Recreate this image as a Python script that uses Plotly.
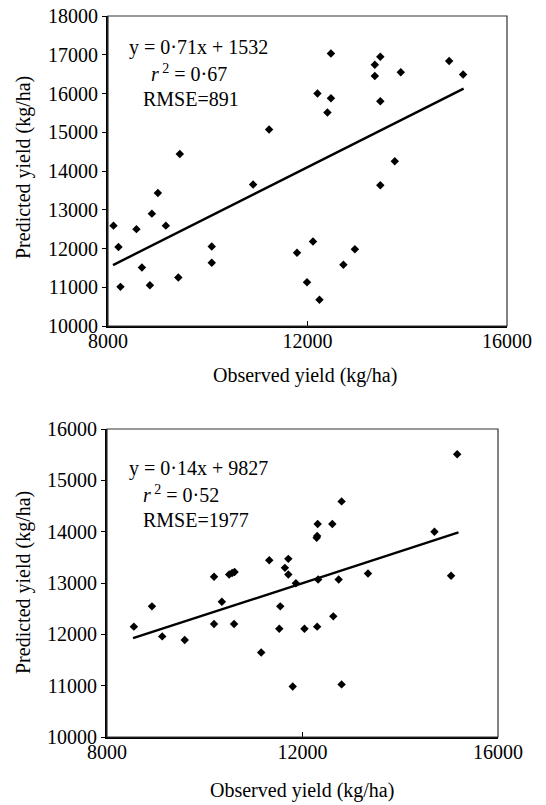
import plotly.graph_objects as go

W, H = 546, 805

# ---- data: top panel ----
obs_a = [8110, 8210, 8250, 8570, 8680, 8840, 8880, 9000, 9160, 9440, 9410,
         10080, 10080, 10910, 11230, 11790, 11990, 12110, 12240, 12200, 12400,
         12470, 12470, 12720, 12950, 13350, 13350, 13460, 13460, 13460, 13750,
         13870, 14840, 15120]
pred_a = [12590, 12040, 11010, 12500, 11510, 11050, 12900, 13430, 12590, 14440,
          11250, 12050, 11630, 13650, 15070, 11890, 11130, 12180, 10680, 16000,
          15510, 15880, 17030, 11580, 11980, 16740, 16450, 16950, 15800, 13630,
          14250, 16550, 16840, 16490]
fit_a_x = [8100, 15130]
fit_a_y = [11572, 16127]
label_a = ["y = 0·71x + 1532", "<i>r</i><sup> 2</sup> = 0·67", "RMSE=891"]

# ---- data: bottom panel ----
obs_b = [8550, 8920, 9130, 9590, 10190, 10190, 10350, 10500, 10560, 10610,
         10600, 11155, 11320, 11545, 11525, 11640, 11710, 11710, 11865, 11800,
         12040, 12290, 12300, 12310, 12320, 12300, 12610, 12630, 12740, 12800,
         12800, 13340, 14700, 15040, 15165]
pred_b = [12150, 12545, 11960, 11890, 13120, 12200, 12635, 13165, 13195, 13215,
          12200, 11645, 13445, 12545, 12110, 13295, 13470, 13165, 12995, 10985,
          12110, 13880, 13915, 14150, 13070, 12150, 14150, 12350, 13070, 14590,
          11025, 13185, 14000, 13140, 15510]
fit_b_x = [8533, 15192]
fit_b_y = [11924, 13986]
label_b = ["y = 0·14x + 9827", "<i>r</i><sup> 2</sup> = 0·52", "RMSE=1977"]

x_ticks = [8000, 12000, 16000]
y_ticks_a = list(range(10000, 18001, 1000))
y_ticks_b = list(range(10000, 16001, 1000))

FONT = "Liberation Serif"
FS = 20

fig = go.Figure()
fig.add_trace(go.Scatter(x=obs_a, y=pred_a, mode="markers", xaxis="x", yaxis="y",
                         marker=dict(symbol="diamond", size=6.5, color="black"),
                         showlegend=False))
fig.add_trace(go.Scatter(x=fit_a_x, y=fit_a_y, mode="lines", xaxis="x", yaxis="y",
                         line=dict(color="black", width=2.4), showlegend=False))
fig.add_trace(go.Scatter(x=obs_b, y=pred_b, mode="markers", xaxis="x2", yaxis="y2",
                         marker=dict(symbol="diamond", size=6.5, color="black"),
                         showlegend=False))
fig.add_trace(go.Scatter(x=fit_b_x, y=fit_b_y, mode="lines", xaxis="x2", yaxis="y2",
                         line=dict(color="black", width=2.4), showlegend=False))


def px(x):
    return x / W


def py(y):
    return 1 - y / H


tickfont = dict(family=FONT, size=FS, color="black")
xcommon = dict(range=[8000, 16000], tickvals=x_ticks,
               ticktext=[str(v) for v in x_ticks], ticks="inside", ticklen=5,
               tickcolor="black", showline=True, linecolor="black", linewidth=2,
               showgrid=False, zeroline=False, tickfont=tickfont, automargin=False,
               ticklabelstandoff=-4, ticklabeloverflow="allow")
ycommon = dict(ticks="outside", ticklen=4, tickcolor="black", showline=True,
               linecolor="black", linewidth=2, showgrid=False, zeroline=False,
               tickfont=tickfont, automargin=False, ticklabeloverflow="allow")

fig.update_layout(
    template="none",
    width=W, height=H, margin=dict(l=0, r=0, t=0, b=0, pad=0),
    paper_bgcolor="white", plot_bgcolor="white",
    font=dict(family=FONT, size=FS, color="black"),
    xaxis=dict(domain=[px(108), px(507)], anchor="y", **xcommon),
    yaxis=dict(domain=[py(326), py(16)], anchor="x", range=[10000, 18000],
               tickvals=y_ticks_a, ticktext=[str(v) for v in y_ticks_a], **ycommon),
    xaxis2=dict(domain=[px(107), px(498)], anchor="y2", **xcommon),
    yaxis2=dict(domain=[py(737), py(429)], anchor="x2", range=[10000, 16000],
                tickvals=y_ticks_b, ticktext=[str(v) for v in y_ticks_b], **ycommon),
)

# frame (thin top/right border)
for xr, yr in [("x", "y"), ("x2", "y2")]:
    fig.add_shape(type="rect", xref=xr + " domain", yref=yr + " domain",
                  x0=0, x1=1, y0=0, y1=1, line=dict(color="#333", width=1.2),
                  layer="above")

ann = []
# axis titles
for yc, xc in [(375, 305), (790, 302)]:
    ann.append(dict(text="Observed yield (kg/ha)", x=px(xc), y=py(yc),
                    xref="paper", yref="paper", showarrow=False,
                    xanchor="center", yanchor="middle",
                    font=dict(family=FONT, size=FS, color="black")))
for yc in [168, 583]:
    ann.append(dict(text="Predicted yield (kg/ha)", x=px(23), y=py(yc),
                    xref="paper", yref="paper", showarrow=False, textangle=-90,
                    xanchor="center", yanchor="middle",
                    font=dict(family=FONT, size=FS, color="black")))

# equation labels
pos_a = [(127, 48), (149, 73), (141, 99)]
pos_b = [(127, 468), (141, 494), (141, 520)]
for labels, pos in [(label_a, pos_a), (label_b, pos_b)]:
    for t, (xx, yy) in zip(labels, pos):
        ann.append(dict(text=t, x=px(xx), y=py(yy), xref="paper", yref="paper",
                        showarrow=False, xanchor="left", yanchor="middle",
                        font=dict(family=FONT, size=FS, color="black")))

fig.update_layout(annotations=ann)
fig.write_html("out.html",
               config={"displayModeBar": False},
               post_script="document.body.style.margin='0';"
                           "document.body.style.overflow='hidden';")
